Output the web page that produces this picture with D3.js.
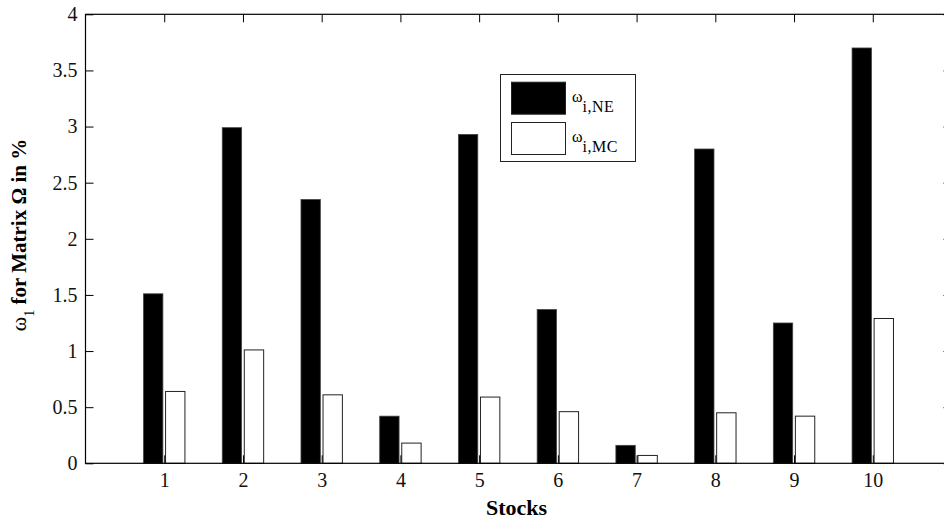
<!DOCTYPE html>
<html>
<head>
<meta charset="utf-8">
<script src="https://cdn.jsdelivr.net/npm/d3@7"></script>
<style>
  body { margin: 0; background: #fff; }
  svg { display: block; }
  .tick text { font-family: "Liberation Serif", serif; font-size: 20px; fill: #111; }
</style>
</head>
<body>
<div id="chart"></div>
<script>
// data
const stocks = [1, 2, 3, 4, 5, 6, 7, 8, 9, 10];
const omegaNE = [1.51, 2.99, 2.35, 0.42, 2.93, 1.37, 0.16, 2.80, 1.25, 3.70];
const omegaMC = [0.64, 1.01, 0.61, 0.18, 0.59, 0.46, 0.07, 0.45, 0.42, 1.29];
const yTicks = [0, 0.5, 1, 1.5, 2, 2.5, 3, 3.5, 4];
const seriesNames = ["NE", "MC"];

const W = 944, H = 521;
const plotLeft = 85.5, plotRight = 951.5, plotTop = 14.3, plotBottom = 463.3;

const svg = d3.select("#chart").append("svg")
    .attr("width", W)
    .attr("height", H);

const x = d3.scaleLinear().domain([0, 11]).range([plotLeft, plotRight]);
const y = d3.scaleLinear().domain([0, 4]).range([plotBottom, plotTop]);

const barW = 0.246;   // in stock units
const offset = 0.14;

// bars
const rows = stocks.map((s, i) => ({stock: s, ne: omegaNE[i], mc: omegaMC[i]}));

svg.selectAll(".bar-ne")
    .data(rows)
    .enter().append("rect")
    .attr("class", "bar-ne")
    .attr("x", d => x(d.stock - offset - barW / 2))
    .attr("y", d => y(d.ne))
    .attr("width", x(barW) - x(0))
    .attr("height", d => y(0) - y(d.ne))
    .attr("fill", "#000")
    .attr("stroke", "#444")
    .attr("stroke-width", 0.8);

svg.selectAll(".bar-mc")
    .data(rows)
    .enter().append("rect")
    .attr("class", "bar-mc")
    .attr("x", d => x(d.stock + offset - barW / 2))
    .attr("y", d => y(d.mc))
    .attr("width", x(barW) - x(0))
    .attr("height", d => y(0) - y(d.mc))
    .attr("fill", "#fff")
    .attr("stroke", "#222")
    .attr("stroke-width", 1);

// axes, ticks inward like matlab
svg.append("g")
    .attr("transform", `translate(0,${plotBottom})`)
    .call(d3.axisBottom(x).tickValues(stocks).tickSizeInner(-8).tickSizeOuter(0).tickPadding(10).tickFormat(d => d))
    .call(g => g.select(".domain").remove());

svg.append("g")
    .attr("transform", `translate(0,${plotTop})`)
    .call(d3.axisTop(x).tickValues(stocks).tickSizeInner(-8).tickSizeOuter(0).tickFormat(""))
    .call(g => g.select(".domain").remove());

svg.append("g")
    .attr("transform", `translate(${plotLeft},0)`)
    .call(d3.axisLeft(y).tickValues(yTicks).tickSizeInner(-8).tickSizeOuter(0).tickPadding(8).tickFormat(d => d))
    .call(g => g.select(".domain").remove());

svg.append("g")
    .attr("transform", `translate(${plotRight},0)`)
    .call(d3.axisRight(y).tickValues(yTicks).tickSizeInner(-8).tickSizeOuter(0).tickFormat(""))
    .call(g => g.select(".domain").remove());

svg.selectAll(".tick line").attr("stroke", "#000");

// axes box
svg.append("rect")
    .attr("x", plotLeft)
    .attr("y", plotTop)
    .attr("width", plotRight - plotLeft)
    .attr("height", plotBottom - plotTop)
    .attr("fill", "none")
    .attr("stroke", "#000")
    .attr("stroke-width", 1.2);

// axis labels
svg.append("text")
    .attr("x", (plotLeft + plotRight) / 2 - 2)
    .attr("y", 515)
    .attr("text-anchor", "middle")
    .style("font-family", "Liberation Serif, serif")
    .style("font-size", "22px")
    .style("font-weight", "bold")
    .text("Stocks");

const yl = svg.append("text")
    .attr("transform", "translate(26,235) rotate(-90)")
    .attr("text-anchor", "middle")
    .style("font-family", "Liberation Serif, serif")
    .style("font-size", "21px")
    .style("font-weight", "bold");
yl.append("tspan").style("font-weight", "normal").style("font-size", "22px").text("ω");
yl.append("tspan").attr("dy", 8).style("font-size", "14px").style("font-weight", "normal").text("1");
yl.append("tspan").attr("dy", -8).text(" for Matrix Ω in %");

// legend
const legend = svg.append("g");
legend.append("rect")
    .attr("x", 500.5).attr("y", 74.5)
    .attr("width", 135).attr("height", 87)
    .attr("fill", "#fff").attr("stroke", "#222");

const swatchY = [81.7, 122];
seriesNames.forEach((name, i) => {
    legend.append("rect")
        .attr("x", 511.5).attr("y", swatchY[i] + 0.5)
        .attr("width", 54).attr("height", 32)
        .attr("fill", i === 0 ? "#000" : "#fff")
        .attr("stroke", "#222");
    const t = legend.append("text")
        .attr("x", 572).attr("y", swatchY[i] + 20)
        .style("font-family", "Liberation Serif, serif")
        .style("font-size", "16px");
    t.append("tspan").text("ω");
    t.append("tspan")
        .attr("dx", 0).attr("dy", 10)
        .style("letter-spacing", "0.5px")
        .text("i," + name);
});
</script>
</body>
</html>
